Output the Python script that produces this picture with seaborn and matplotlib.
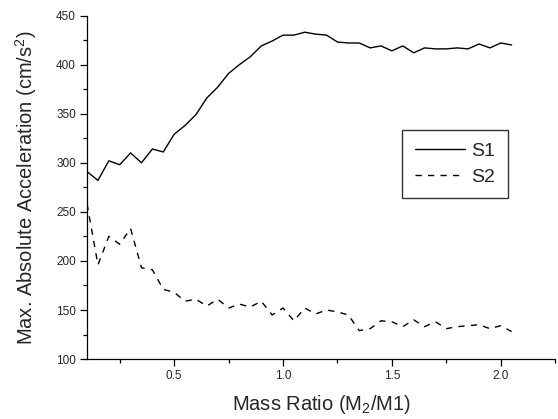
import numpy as np
import pandas as pd
import seaborn as sns
import matplotlib.pyplot as plt
from matplotlib.ticker import MultipleLocator

# mass ratio M2/M1, step 0.05
mass_ratio = [0.10, 0.15, 0.20, 0.25, 0.30, 0.35, 0.40, 0.45, 0.50, 0.55,
              0.60, 0.65, 0.70, 0.75, 0.80, 0.85, 0.90, 0.95, 1.00, 1.05,
              1.10, 1.15, 1.20, 1.25, 1.30, 1.35, 1.40, 1.45, 1.50, 1.55,
              1.60, 1.65, 1.70, 1.75, 1.80, 1.85, 1.90, 1.95, 2.00, 2.05]

s1 = [291, 282, 302, 298, 310, 300, 314, 311, 329, 338,
      349, 366, 377, 391, 400, 408, 419, 424, 430, 430,
      433, 431, 430, 423, 422, 422, 417, 419, 414, 419,
      412, 417, 416, 416, 417, 416, 421, 417, 422, 420]

s2 = [258, 196, 225, 217, 233, 193, 191, 171, 168, 159,
      161, 154, 161, 152, 156, 153, 159, 145, 152, 139,
      152, 146, 150, 148, 145, 129, 131, 139, 138, 133,
      140, 133, 138, 131, 133, 134, 135, 131, 134, 128]

df = pd.DataFrame({
    'ratio': mass_ratio * 2,
    'acc': s1 + s2,
    'series': ['S1'] * len(s1) + ['S2'] * len(s2),
})

sns.set_style('ticks')
plt.rcParams['font.family'] = ['Liberation Sans', 'DejaVu Sans']
plt.rcParams['mathtext.default'] = 'regular'

fig = plt.figure(figsize=(5.58, 4.19), dpi=100)
ax = fig.add_axes([0.156, 0.143, 0.839, 0.820])

sns.lineplot(data=df, x='ratio', y='acc', hue='series', style='series',
             palette=['black', 'black'], dashes={'S1': '', 'S2': (4.5, 4.5)},
             linewidth=1.0, ax=ax)

ax.set_xlim(0.1, 2.25)
ax.set_ylim(100, 450)
ax.xaxis.set_major_locator(MultipleLocator(0.5))
ax.xaxis.set_minor_locator(MultipleLocator(0.25))
ax.yaxis.set_major_locator(MultipleLocator(50))
ax.yaxis.set_minor_locator(MultipleLocator(25))
ax.tick_params(which='major', length=5, width=0.9, color='black', labelsize=8.5, pad=3)
ax.tick_params(which='minor', length=3, width=0.9, color='black')
ax.set_xticks([0.5, 1.0, 1.5, 2.0])
ax.set_xticklabels(['0.5', '1.0', '1.5', '2.0'])

sns.despine(ax=ax)
for sp in ['left', 'bottom']:
    ax.spines[sp].set_color('black')
    ax.spines[sp].set_linewidth(0.9)

ax.set_xlabel('Mass Ratio (M$_2$/M1)', fontsize=14.5, labelpad=8)
ax.set_ylabel('Max. Absolute Acceleration (cm/s$^2$)', fontsize=14.5, labelpad=12)

leg = ax.legend(title=None, fontsize=14, loc='upper left',
                bbox_to_anchor=(0.673, 0.667), borderaxespad=0,
                frameon=True, fancybox=False,
                handlelength=2.6, handletextpad=0.3, borderpad=0.65,
                labelspacing=0.4)
leg.get_frame().set_edgecolor('black')
leg.get_frame().set_linewidth(1.0)

fig.savefig('out.png', dpi=100)
